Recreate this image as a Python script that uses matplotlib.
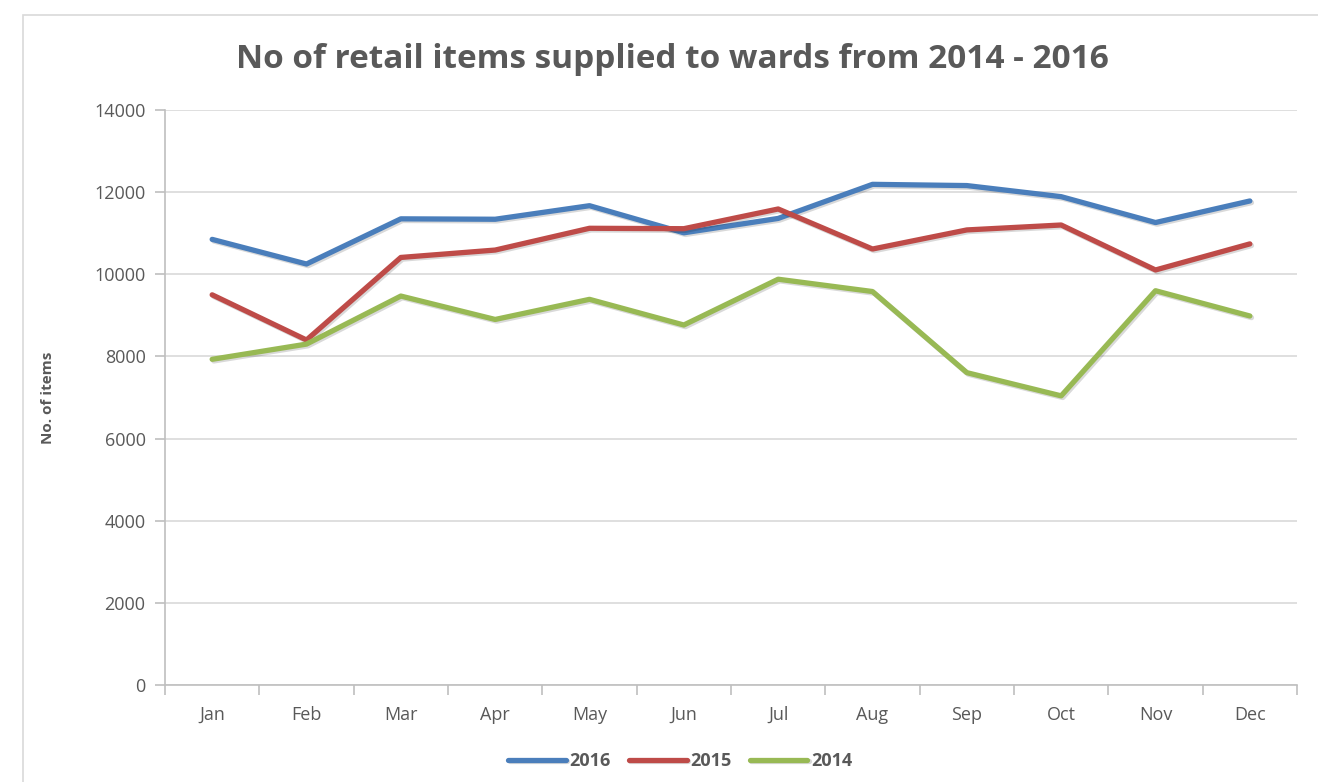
import matplotlib.pyplot as plt
import matplotlib.patheffects as pe
from matplotlib.patches import Rectangle

months = ["Jan", "Feb", "Mar", "Apr", "May", "Jun",
          "Jul", "Aug", "Sep", "Oct", "Nov", "Dec"]
items_2016 = [10850, 10250, 11350, 11340, 11670, 11010,
              11360, 12190, 12160, 11890, 11260, 11785]
items_2015 = [9500, 8400, 10410, 10590, 11120, 11110,
              11590, 10615, 11080, 11200, 10105, 10740]
items_2014 = [7930, 8300, 9470, 8900, 9390, 8765,
              9880, 9580, 7605, 7040, 9600, 8985]

series = [("2016", items_2016, "#4a7ebb"),
          ("2015", items_2015, "#be4b48"),
          ("2014", items_2014, "#98b954")]

plt.rcParams["font.family"] = ["Open Sans", "DejaVu Sans"]
text_col = "#595959"
grid_col = "#d9d9d9"

fig = plt.figure(figsize=(13.18, 7.82), dpi=100)
ax = fig.add_axes([165 / 1318, 97 / 782, 1132 / 1318, 575 / 782])

# outer chart frame
fig.patches.append(Rectangle((23 / 1318, -0.05), 1.1, (782 - 15) / 782 + 0.05,
                             transform=fig.transFigure, fill=False,
                             edgecolor=grid_col, linewidth=1.2))

x = list(range(len(months)))
shadow = [pe.SimpleLineShadow(offset=(1.2, -1.2), shadow_color="#000000", alpha=0.15),
          pe.Normal()]
for label, vals, col in series:
    ax.plot(x, vals, color=col, lw=3.8, label=label,
            solid_capstyle="round", solid_joinstyle="round", path_effects=shadow)

ax.set_xlim(-0.5, 11.5)
ax.set_ylim(0, 14000)
ax.set_yticks(range(0, 14001, 2000))
ax.set_xticks(x)
ax.set_xticklabels(months)
ax.set_xticks([i - 0.5 for i in range(13)], minor=True)

ax.grid(axis="y", color=grid_col, lw=1.2)
ax.set_axisbelow(True)
for s in ["top", "right"]:
    ax.spines[s].set_visible(False)
for s in ["left", "bottom"]:
    ax.spines[s].set_color("#bfbfbf")
    ax.spines[s].set_linewidth(1.2)

ax.tick_params(axis="x", which="major", length=0, pad=15, labelsize=13, labelcolor=text_col)
ax.tick_params(axis="x", which="minor", length=7, color="#bfbfbf", width=1.2)
ax.tick_params(axis="y", length=7, color="#bfbfbf", width=1.2, pad=7,
               labelsize=13, labelcolor=text_col)

ax.set_ylabel("No. of items", fontsize=11, fontweight="bold", color=text_col, labelpad=28)

fig.text(672 / 1318, 1 - 59 / 782, "No of retail items supplied to wards from 2014 - 2016",
         ha="center", va="center", fontsize=24, fontweight="bold", color=text_col)

leg = fig.legend(loc="center", bbox_to_anchor=(680 / 1318, 1 - 761 / 782), ncol=3,
                 frameon=False, handlelength=3.2, handletextpad=0.2, columnspacing=1.0,
                 prop={"size": 13, "weight": "bold"})
for t in leg.get_texts():
    t.set_color(text_col)

fig.savefig("out.png", dpi=100)
